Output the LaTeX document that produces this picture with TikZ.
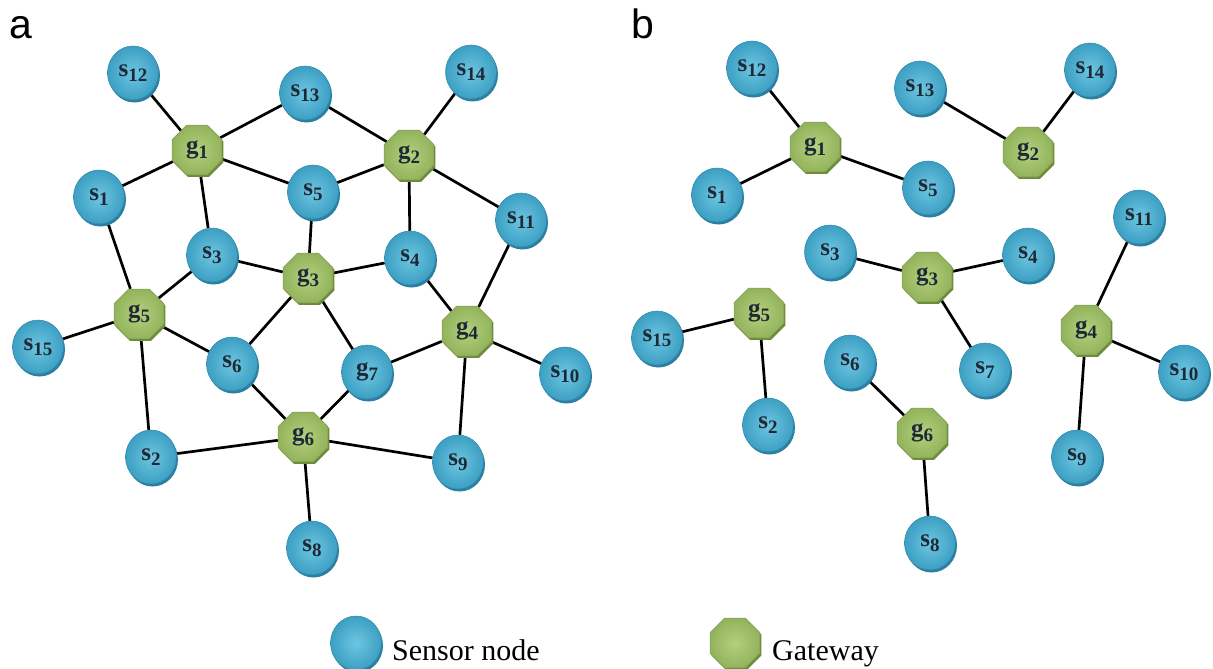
\documentclass[tikz,border=0pt]{standalone}
\usepackage{fontspec}
\setmainfont{Liberation Serif}
\newfontfamily\panelfont{Liberation Sans}
\usetikzlibrary{shapes.geometric,shadows,backgrounds}

\definecolor{sensorhi}{HTML}{6EC6E1}
\definecolor{sensorlo}{HTML}{3C9FC3}
\definecolor{sensorsh}{HTML}{2B80A2}
\definecolor{gatehi}{HTML}{B4D17E}
\definecolor{gatelo}{HTML}{93B35C}
\definecolor{gatesh}{HTML}{6D8C3B}
\definecolor{labelink}{HTML}{1E2836}

% node label: bold letter with a lowered index
\newcommand\nlab[2]{{\fontsize{25}{25}\selectfont\bfseries #1\raisebox{-5pt}{\fontsize{19}{19}\selectfont #2}}}

\begin{document}
\begin{tikzpicture}[x=1pt,y=-1pt,
  sensor/.style={ellipse, minimum width=51pt, minimum height=54pt, inner sep=0pt,
    inner color=sensorhi, outer color=sensorlo, draw=sensorlo!85!black, line width=0.5pt,
    text=labelink,
    drop shadow={shadow xshift=1.5pt, shadow yshift=-2.5pt, fill=sensorsh, opacity=1}},
  gateway/.style={regular polygon, regular polygon sides=8, minimum size=54pt, inner sep=0pt,
    inner color=gatehi, outer color=gatelo, draw=gatelo!85!black, line width=0.5pt,
    text=labelink,
    drop shadow={shadow xshift=1.5pt, shadow yshift=-2pt, fill=gatesh, opacity=1}},
  link/.style={line width=2.7pt, black},
  panel/.style={anchor=base west, inner sep=0pt, font=\panelfont\fontsize{41}{41}\selectfont},
  legendtext/.style={anchor=base west, inner sep=0pt, font=\fontsize{30}{30}\selectfont}]

\useasboundingbox (0,0) rectangle (1213,669);

% ---------- panel a: full connectivity ----------
\node[panel] (la) at (9,39) {a};

\node[sensor]  (a12) at (133,73)  {\nlab{s}{12}};
\node[sensor]  (a13) at (305,93)  {\nlab{s}{13}};
\node[sensor]  (a14) at (471,72)  {\nlab{s}{14}};
\node[gateway] (ag1) at (197,150) {\nlab{g}{1}};
\node[gateway] (ag2) at (409,155) {\nlab{g}{2}};
\node[sensor]  (a1)  at (99,197)  {\nlab{s}{1}};
\node[sensor]  (a5)  at (313,192) {\nlab{s}{5}};
\node[sensor]  (a11) at (521,220) {\nlab{s}{11}};
\node[sensor]  (a3)  at (212,255) {\nlab{s}{3}};
\node[sensor]  (a4)  at (410,258) {\nlab{s}{4}};
\node[gateway] (ag3) at (308,278) {\nlab{g}{3}};
\node[gateway] (ag5) at (139,314) {\nlab{g}{5}};
\node[gateway] (ag4) at (467,331) {\nlab{g}{4}};
\node[sensor]  (a15) at (38,347)  {\nlab{s}{15}};
\node[sensor]  (a6)  at (232,364) {\nlab{s}{6}};
\node[sensor]  (ag7) at (367,372) {\nlab{g}{7}};
\node[sensor]  (a10) at (565,374) {\nlab{s}{10}};
\node[gateway] (ag6) at (303,437) {\nlab{g}{6}};
\node[sensor]  (a2)  at (151,457) {\nlab{s}{2}};
\node[sensor]  (a9)  at (458,462) {\nlab{s}{9}};
\node[sensor]  (a8)  at (312,548) {\nlab{s}{8}};

\begin{pgfonlayer}{background}
  \fill[white] (0,0) rectangle (1213,669);
  \draw[link] (a12) -- (ag1);
  \draw[link] (ag1) -- (a13);
  \draw[link] (a13) -- (ag2);
  \draw[link] (a14) -- (ag2);
  \draw[link] (ag1) -- (a1);
  \draw[link] (ag1) -- (a5);
  \draw[link] (ag1) -- (a3);
  \draw[link] (ag2) -- (a5);
  \draw[link] (ag2) -- (a4);
  \draw[link] (ag2) -- (a11);
  \draw[link] (a5) -- (ag3);
  \draw[link] (a3) -- (ag3);
  \draw[link] (ag3) -- (a4);
  \draw[link] (a1) -- (ag5);
  \draw[link] (a3) -- (ag5);
  \draw[link] (a15) -- (ag5);
  \draw[link] (ag5) -- (a6);
  \draw[link] (ag5) -- (a2);
  \draw[link] (ag3) -- (a6);
  \draw[link] (ag3) -- (ag7);
  \draw[link] (a4) -- (ag4);
  \draw[link] (a11) -- (ag4);
  \draw[link] (ag7) -- (ag4);
  \draw[link] (ag4) -- (a10);
  \draw[link] (ag4) -- (a9);
  \draw[link] (a6) -- (ag6);
  \draw[link] (ag7) -- (ag6);
  \draw[link] (a2) -- (ag6);
  \draw[link] (ag6) -- (a9);
  \draw[link] (ag6) -- (a8);
\end{pgfonlayer}

% ---------- panel b: clusters around each gateway ----------
\node[panel] (lb) at (631,39) {b};

\node[sensor]  (b12) at (752,68)   {\nlab{s}{12}};
\node[sensor]  (b13) at (920,88)   {\nlab{s}{13}};
\node[sensor]  (b14) at (1090,70)  {\nlab{s}{14}};
\node[gateway] (bg1) at (815,147)  {\nlab{g}{1}};
\node[gateway] (bg2) at (1028,152) {\nlab{g}{2}};
\node[sensor]  (b1)  at (717,195)  {\nlab{s}{1}};
\node[sensor]  (b5)  at (928,188)  {\nlab{s}{5}};
\node[sensor]  (b11) at (1139,217) {\nlab{s}{11}};
\node[sensor]  (b3)  at (830,252)  {\nlab{s}{3}};
\node[gateway] (bg3) at (927,277)  {\nlab{g}{3}};
\node[sensor]  (b4)  at (1028,255) {\nlab{s}{4}};
\node[gateway] (bg5) at (759,313)  {\nlab{g}{5}};
\node[gateway] (bg4) at (1086,330) {\nlab{g}{4}};
\node[sensor]  (b15) at (657,338)  {\nlab{s}{15}};
\node[sensor]  (b6)  at (850,362)  {\nlab{s}{6}};
\node[sensor]  (b7)  at (985,370)  {\nlab{s}{7}};
\node[sensor]  (b10) at (1184,372) {\nlab{s}{10}};
\node[sensor]  (b2)  at (768,425)  {\nlab{s}{2}};
\node[gateway] (bg6) at (922,433)  {\nlab{g}{6}};
\node[sensor]  (b9)  at (1077,457) {\nlab{s}{9}};
\node[sensor]  (b8)  at (930,543)  {\nlab{s}{8}};

\begin{pgfonlayer}{background}
  \draw[link] (b12) -- (bg1);
  \draw[link] (b1) -- (bg1);
  \draw[link] (bg1) -- (b5);
  \draw[link] (b13) -- (bg2);
  \draw[link] (bg2) -- (b14);
  \draw[link] (b3) -- (bg3);
  \draw[link] (bg3) -- (b4);
  \draw[link] (bg3) -- (b7);
  \draw[link] (b15) -- (bg5);
  \draw[link] (bg5) -- (b2);
  \draw[link] (b6) -- (bg6);
  \draw[link] (bg6) -- (b8);
  \draw[link] (b11) -- (bg4);
  \draw[link] (bg4) -- (b10);
  \draw[link] (bg4) -- (b9);
\end{pgfonlayer}

% ---------- legend ----------
\node[sensor]  (keys) at (356,643) {};
\node[legendtext] (keyst) at (392,660) {Sensor node};
\node[gateway] (keyg) at (735,643) {};
\node[legendtext] (keygt) at (772,660) {Gateway};

\end{tikzpicture}
\end{document}
